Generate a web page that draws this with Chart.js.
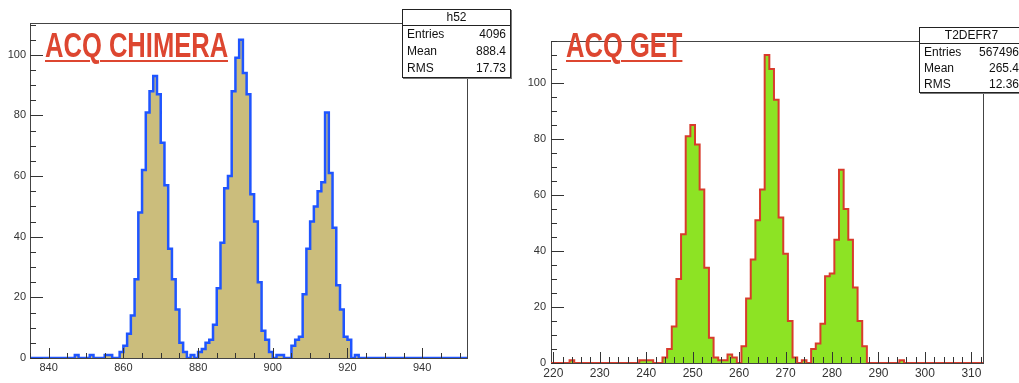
<!DOCTYPE html>
<html>
<head>
<meta charset="utf-8">
<script src="https://cdn.jsdelivr.net/npm/chart.js@4/dist/chart.umd.min.js"></script>
<style>
  html, body { margin: 0; padding: 0; background: #fff; }
  body { width: 1019px; height: 383px; position: relative; overflow: hidden; font-family: 'Liberation Sans', Arial, sans-serif; }
  canvas { position: absolute; top: 0; }
  #left { left: 0; }
  #right { left: 510px; }
  .ttl {
    position: absolute; top: 27px; white-space: nowrap;
    font: bold 35px/35px 'Liberation Sans', Arial, sans-serif;
    color: #dd4630; text-decoration: underline;
    text-decoration-thickness: 2px; text-underline-offset: 3px;
    transform: scaleX(0.73); transform-origin: 0 0;
  }
  .stat {
    position: absolute; box-sizing: border-box; background: #fff;
    border: 1px solid #222; box-shadow: 1px 1px 0 #777;
    font: 12px 'Liberation Sans', Arial, sans-serif; color: #111;
  }
  .stat .hd { text-align: center; border-bottom: 1px solid #222; height: 15px; line-height: 15px; }
  .stat .row { display: flex; justify-content: space-between; padding: 0 4px 0 4px; }
</style>
</head>
<body>
<canvas id="left" width="510" height="383"></canvas>
<canvas id="right" width="509" height="383"></canvas>
<div class="ttl" style="left:45px">ACQ CHIMERA</div>
<div class="ttl" style="left:566px">ACQ GET</div>
<div class="stat" id="statL" style="left:402px;top:9px;width:109px;height:69px"></div>
<div class="stat" id="statR" style="left:919px;top:27px;width:105px;height:66px"></div>
<script>
// ACQ CHIMERA: bins 1 wide, lower edge of first listed bin
var chimeraStart = 845;
var chimeraCounts = [
    0, 0, 1, 0, 0, 0, 1, 0, 0, 0,
    1, 1, 0, 0, 2, 4, 8, 14, 26, 48,
    62, 81, 88, 93, 87, 71, 57, 36, 26, 16,
    5, 2, 0, 1, 0, 2, 3, 5, 6, 11,
    23, 38, 56, 60, 88, 99, 105, 94, 87, 54,
    45, 25, 9, 6, 2, 0, 1, 1, 0, 0,
    4, 6, 7, 21, 36, 45, 50, 55, 58, 81,
    61, 43, 24, 16, 7, 6, 0, 1, 0
];
var chimeraRange = [835, 952];
var chimeraXTicks = [840, 860, 880, 900, 920, 940];

// ACQ GET: bins 1 wide, centre of first listed bin
var getStart = 222;
var getCounts = [
    0, 0, 1, 0, 0, 0, 0, 0, 0, 0,
    0, 0, 0, 0, 0, 0, 0, 1, 1, 1,
    0, 0, 2, 5, 13, 30, 46, 81, 85, 78,
    62, 34, 9, 2, 1, 1, 3, 2, 0, 6,
    23, 37, 51, 62, 110, 105, 94, 52, 39, 15,
    2, 0, 1, 0, 5, 7, 14, 31, 32, 44,
    69, 55, 44, 27, 15, 6, 0, 0, 0, 0,
    0, 0, 0, 1, 0
];
var getRange = [219.5, 312.5];
var getXTicks = [220, 230, 240, 250, 260, 270, 280, 290, 300, 310];

var yTicks = [0, 20, 40, 60, 80, 100];
var chimeraYMax = 110.5;
var getYMax = 115;

var chimeraStats = { name: 'h52', rows: [['Entries', '4096'], ['Mean', '888.4'], ['RMS', '17.73']] };
var getStats = { name: 'T2DEFR7', rows: [['Entries', '567496'], ['Mean', '265.4'], ['RMS', '12.36']] };

Chart.defaults.font.family = "'Liberation Sans', Arial, sans-serif";
Chart.defaults.color = '#333';

function histPoints(range, firstEdge, counts) {
    var pts = [{ x: range[0], y: 0 }];
    for (var i = 0; i < counts.length; i++) {
        pts.push({ x: firstEdge + i, y: counts[i] });
    }
    pts.push({ x: firstEdge + counts.length, y: 0 });
    pts.push({ x: range[1], y: 0 });
    return pts;
}

// ROOT-like frame and inward ticks
var rootAxes = {
    id: 'rootAxes',
    beforeDatasetsDraw: function (chart) {
        var a = chart.chartArea, ctx = chart.ctx;
        ctx.save();
        ctx.strokeStyle = '#444';
        ctx.lineWidth = 1;
        ctx.strokeRect(Math.round(a.left) + 0.5, Math.round(a.top) + 0.5,
            Math.round(a.right - a.left), Math.round(a.bottom - a.top));
        ctx.restore();
    },
    afterDatasetsDraw: function (chart, args, o) {
        var a = chart.chartArea, ctx = chart.ctx;
        var xs = chart.scales.x, ys = chart.scales.y;
        ctx.save();
        ctx.strokeStyle = '#333';
        ctx.lineWidth = 1;
        ctx.beginPath();
        var v, px, len;
        for (v = Math.ceil(xs.min / o.xStep) * o.xStep; v <= xs.max; v += o.xStep) {
            len = o.xLabels.indexOf(v) >= 0 ? o.xMajor : o.xMinor;
            px = Math.round(xs.getPixelForValue(v)) + 0.5;
            ctx.moveTo(px, a.bottom);
            ctx.lineTo(px, a.bottom - len);
        }
        for (v = 0; v <= ys.max; v += o.yStep) {
            len = yTicks.indexOf(v) >= 0 ? o.yMajor : o.yMinor;
            px = Math.round(ys.getPixelForValue(v)) + 0.5;
            ctx.moveTo(a.left, px);
            ctx.lineTo(a.left + len, px);
        }
        ctx.stroke();
        ctx.restore();
    }
};

function makeChart(id, cfg) {
    return new Chart(document.getElementById(id), {
        type: 'line',
        data: {
            datasets: [{
                data: cfg.points,
                stepped: true,
                fill: 'origin',
                backgroundColor: cfg.fill,
                borderColor: cfg.line,
                borderWidth: cfg.lineWidth,
                pointRadius: 0,
                tension: 0
            }]
        },
        options: {
            responsive: false,
            animation: false,
            layout: { padding: cfg.padding },
            plugins: {
                legend: { display: false },
                tooltip: { enabled: false },
                rootAxes: cfg.ticks
            },
            scales: {
                x: {
                    type: 'linear',
                    min: cfg.range[0],
                    max: cfg.range[1],
                    grid: { display: false, drawTicks: false },
                    border: { display: false },
                    afterBuildTicks: function (s) {
                        s.ticks = cfg.xTicks.map(function (t) { return { value: t }; });
                    },
                    afterFit: function (s) { s.height = cfg.xHeight; },
                    ticks: { autoSkip: false, maxRotation: 0, padding: 3, font: { size: cfg.xFont } }
                },
                y: {
                    min: 0,
                    max: cfg.yMax,
                    grid: { display: false, drawTicks: false },
                    border: { display: false },
                    afterBuildTicks: function (s) {
                        s.ticks = yTicks.map(function (t) { return { value: t }; });
                    },
                    afterFit: function (s) { s.width = cfg.yWidth; },
                    ticks: { padding: cfg.yPad, font: { size: 11 } }
                }
            }
        },
        plugins: [rootAxes]
    });
}

makeChart('left', {
    points: histPoints(chimeraRange, chimeraStart, chimeraCounts),
    range: chimeraRange, xTicks: chimeraXTicks, yMax: chimeraYMax,
    fill: '#cbbd7c', line: '#1f55ff', lineWidth: 2.5,
    padding: { top: 23, right: 43, left: 0, bottom: 0 },
    yWidth: 30, xHeight: 25, xFont: 11, yPad: 4,
    ticks: { xStep: 5, xLabels: chimeraXTicks, xMajor: 10, xMinor: 5, yStep: 5, yMajor: 13, yMinor: 6 }
});

makeChart('right', {
    points: histPoints(getRange, getStart - 0.5, getCounts),
    range: getRange, xTicks: getXTicks, yMax: getYMax,
    fill: '#8de324', line: '#d83c2c', lineWidth: 2,
    padding: { top: 41, right: 36, left: 0, bottom: 0 },
    yWidth: 41, xHeight: 20, xFont: 12, yPad: 5,
    ticks: { xStep: 2, xLabels: getXTicks, xMajor: 11, xMinor: 6, yStep: 5, yMajor: 13, yMinor: 6 }
});

function fillStats(id, st, rowH) {
    var box = document.getElementById(id);
    var html = '<div class="hd">' + st.name + '</div>';
    st.rows.forEach(function (r) {
        html += '<div class="row" style="height:' + rowH + 'px;line-height:' + rowH + 'px"><span>' +
            r[0] + '</span><span>' + r[1] + '</span></div>';
    });
    box.innerHTML = html;
}
fillStats('statL', chimeraStats, 17);
fillStats('statR', getStats, 16);
</script>
</body>
</html>
